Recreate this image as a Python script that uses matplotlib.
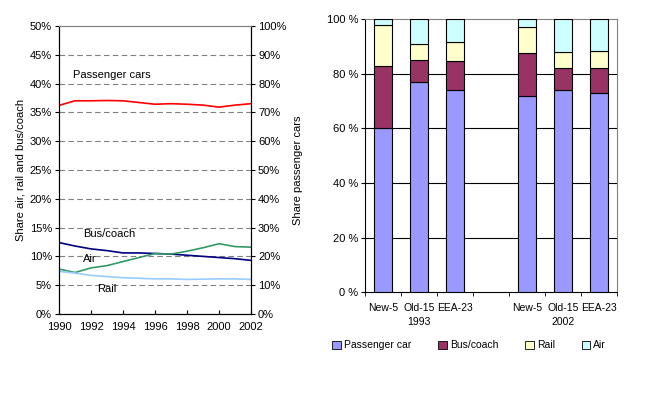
#!/usr/bin/env python3
"""Modal split: shares 1990-2002 (left) and 1993 vs 2002 by group (right)."""
import matplotlib
matplotlib.use("Agg")
import matplotlib.pyplot as plt
from matplotlib.patches import Patch
from matplotlib.ticker import FuncFormatter

plt.rcParams['font.family'] = ['Liberation Sans', 'DejaVu Sans']
plt.rcParams['font.size'] = 8

# --- left chart data (percent) ---
years = list(range(1990, 2003))
cars = [72.4, 74.0, 74.0, 74.1, 74.0, 73.4, 72.8, 73.0, 72.8, 72.5, 71.8, 72.5, 73.0]
bus = [12.4, 11.8, 11.3, 11.0, 10.6, 10.6, 10.5, 10.4, 10.2, 10.0, 9.8, 9.6, 9.3]
air = [7.8, 7.2, 8.0, 8.4, 9.1, 9.8, 10.5, 10.4, 10.9, 11.5, 12.2, 11.7, 11.6]
rail = [7.4, 7.1, 6.7, 6.5, 6.3, 6.2, 6.1, 6.1, 6.0, 6.05, 6.1, 6.1, 6.0]

# --- right chart data (percent) ---
groups = ["New-5", "Old-15\n1993", "EEA-23", "", "New-5", "Old-15\n2002", "EEA-23"]
car_share = [60, 77, 74, 0, 72, 74, 73]
bus_share = [23, 8.2, 10.8, 0, 15.5, 8, 9.3]
rail_share = [15, 5.8, 6.7, 0, 9.5, 6, 6.2]
air_share = [2, 9, 8.5, 0, 3, 12, 11.5]


def main():
    fig = plt.figure(figsize=(6.59, 3.98), dpi=100)

    # left: line chart with secondary axis
    ax = fig.add_axes([0.0895, 0.211, 0.2915, 0.724])
    ax2 = ax.twinx()
    ax.plot(years, bus, color="#000080", lw=1.2)
    ax.plot(years, air, color="#339966", lw=1.2)
    ax.plot(years, rail, color="#99CCFF", lw=1.2)
    ax2.plot(years, cars, color="#FF0000", lw=1.2)

    ax.set_xlim(1990, 2002)
    ax.set_ylim(0, 50)
    ax2.set_ylim(0, 100)
    ax.set_xticks(range(1990, 2003, 2))
    ax.set_yticks(range(0, 51, 5))
    ax2.set_yticks(range(0, 101, 10))
    pct = FuncFormatter(lambda v, p: f"{v:.0f}%")
    ax.yaxis.set_major_formatter(pct)
    ax2.yaxis.set_major_formatter(pct)
    for v in range(5, 50, 5):
        ax.axhline(v, color="#808080", lw=0.8, ls=(0, (5, 3)), zorder=0)
    ax.tick_params(axis="x", direction="in", length=3, pad=6)
    ax.tick_params(axis="y", direction="out", length=3, pad=2)
    ax2.tick_params(axis="y", direction="out", length=3, pad=2)
    for a in (ax, ax2):
        a.spines["top"].set_color("#808080")
    ax.set_ylabel("Share air, rail and bus/coach", labelpad=3)
    ax2.set_ylabel("Share passenger cars", labelpad=5)

    ax.text(1990.9, 41, "Passenger cars", fontsize=8)
    ax.text(1991.5, 13.4, "Bus/coach", fontsize=8)
    ax.text(1991.5, 9.0, "Air", fontsize=8)
    ax.text(1992.4, 3.9, "Rail", fontsize=8)

    # right: stacked bars
    bx = fig.add_axes([0.554, 0.266, 0.382, 0.6855])
    pos = list(range(len(groups)))
    keep = [i for i in pos if car_share[i] > 0]
    colors = ["#9999FF", "#993366", "#FFFFCC", "#CCFFFF"]
    names = ["Passenger car", "Bus/coach", "Rail", "Air"]
    bottom = [0] * len(keep)
    for vals, c in zip([car_share, bus_share, rail_share, air_share], colors):
        v = [vals[i] for i in keep]
        bx.bar(keep, v, width=0.5, bottom=bottom, color=c,
               edgecolor="black", lw=0.8, zorder=3)
        bottom = [b + x for b, x in zip(bottom, v)]
    for v in range(20, 100, 20):
        bx.axhline(v, color="black", lw=0.8, zorder=1)
    bx.set_xlim(-0.5, 6.5)
    bx.set_ylim(0, 100)
    bx.set_yticks(range(0, 101, 20))
    bx.yaxis.set_major_formatter(FuncFormatter(lambda v, p: f"{v:.0f} %"))
    bx.set_xticks(pos)
    bx.set_xticklabels(groups, linespacing=1.5, va="top", fontsize=7.5)
    bx.set_xticks([p - 0.5 for p in range(len(groups) + 1)], minor=True)
    bx.tick_params(axis="x", which="major", length=0, pad=8)
    bx.tick_params(axis="x", which="minor", length=3, direction="out")
    bx.tick_params(axis="y", length=3, direction="out", pad=2)
    bx.spines["top"].set_color("#808080")
    bx.spines["right"].set_color("#808080")

    handles = [Patch(facecolor=c, edgecolor="black", lw=0.6) for c in colors]
    fig.legend(handles, names, loc="center", bbox_to_anchor=(0.712, 0.132),
               ncol=4, frameon=False, handlelength=0.8, handleheight=0.8,
               handletextpad=0.3, columnspacing=2.6, fontsize=7.5)

    fig.savefig("out.png", dpi=100)


if __name__ == "__main__":
    main()
